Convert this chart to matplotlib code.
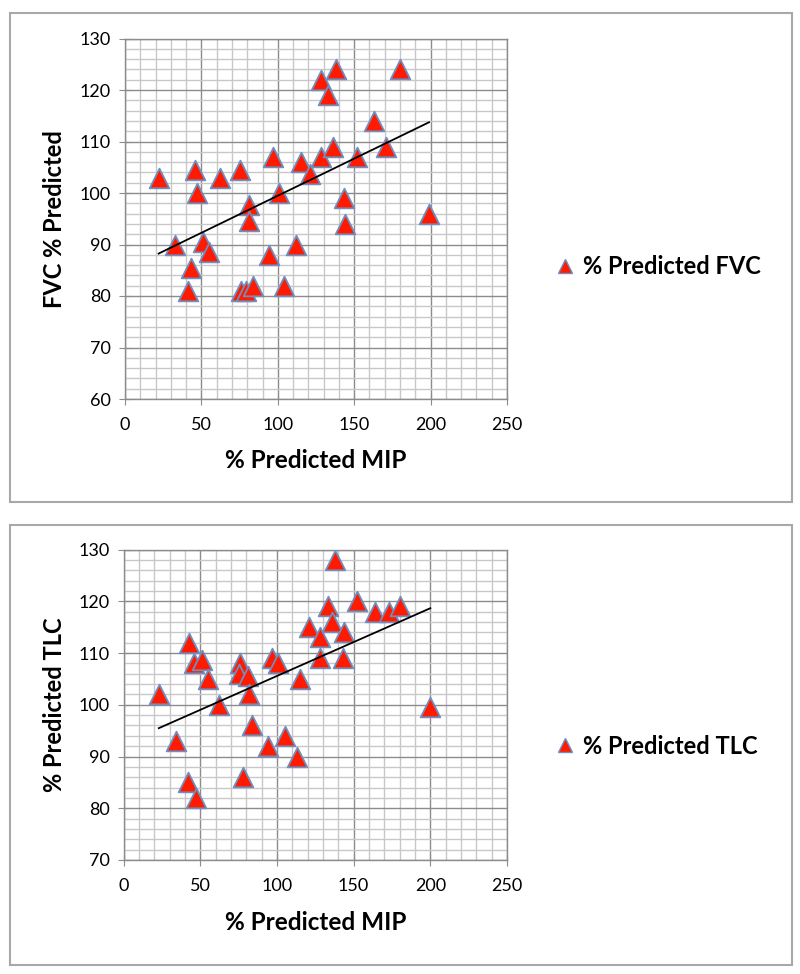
import numpy as np
import matplotlib.pyplot as plt
from matplotlib.patches import Rectangle
from matplotlib.lines import Line2D

plt.rcParams['font.family'] = ['Lato', 'DejaVu Sans']

# --- data ---
fvc_mip = [22, 33, 43, 41, 46, 47, 51, 55, 62, 75, 76, 79, 84, 81, 81, 94, 97,
           101, 104, 112, 115, 121, 128, 128, 133, 136, 138, 143, 144, 152,
           163, 171, 180, 199]
fvc_pred = [103, 90, 85.5, 81, 104.5, 100, 90.5, 88.5, 103, 104.5, 81, 81, 82,
            97.6, 94.5, 88, 107, 100, 82, 90, 106, 103.6, 107, 122, 119, 109,
            124, 99, 94, 107, 114, 109, 124, 96]

tlc_mip = [23, 34, 43, 46, 51, 55, 42, 47, 62, 76, 75, 81, 82, 84, 78, 94, 97,
           101, 105, 113, 115, 121, 128, 128, 133, 136, 138, 144, 143, 152,
           164, 173, 180, 200]
tlc_pred = [102, 93, 112, 108, 108.6, 105, 85, 82, 100, 108, 106, 105.6, 102,
            96, 86, 92, 109, 108, 94, 90, 105, 115, 113, 109, 119, 116, 128,
            114, 109, 120, 118, 118, 119, 99.5]

W, H = 800, 974
fig = plt.figure(figsize=(W / 100, H / 100), dpi=100)


def px_box(left, top, right, bottom):
    return [left / W, 1 - bottom / H, (right - left) / W, (bottom - top) / H]


# panel frames
for (t, b) in [(13, 502), (525, 965)]:
    fig.add_artist(Rectangle((10 / W, 1 - b / H), 782 / W, (b - t) / H,
                             transform=fig.transFigure, fill=False,
                             edgecolor='#a8a8a8', lw=1.5))

panels = [
    dict(box=px_box(125, 38.5, 507, 399), x=fvc_mip, y=fvc_pred, ylim=(60, 130),
         ylabel='FVC % Predicted', leg='% Predicted FVC', leg_y=267,
         ylab_y=219, xlab_y=461),
    dict(box=px_box(123.5, 549.5, 507, 860), x=tlc_mip, y=tlc_pred, ylim=(70, 130),
         ylabel='% Predicted TLC', leg='% Predicted TLC', leg_y=746,
         ylab_y=705, xlab_y=922),
]

for p in panels:
    ax = fig.add_axes(p['box'])
    ax.set_xlim(0, 250)
    ax.set_ylim(*p['ylim'])
    ax.set_xticks(np.arange(0, 251, 50))
    ax.set_xticks(np.arange(0, 251, 10), minor=True)
    ax.set_yticks(np.arange(p['ylim'][0], 131, 10))
    ax.set_yticks(np.arange(p['ylim'][0], 131, 2), minor=True)
    ax.grid(which='minor', color='#c8c8c8', lw=1.0)
    ax.grid(which='major', color='#8c8c8c', lw=1.0)
    ax.set_axisbelow(True)
    for s in ax.spines.values():
        s.set_color('#8c8c8c')
        s.set_linewidth(1.0)
    ax.tick_params(which='major', direction='inout', length=8, color='#8c8c8c',
                   labelsize=13, pad=6)
    ax.tick_params(which='minor', length=0)
    ax.tick_params(axis='x', pad=9)

    ax.scatter(p['x'], p['y'], marker='^', s=200, c='#ff1a00',
               edgecolors='#6f8fc0', linewidths=1.3, zorder=3)

    # linear trendline
    k, b0 = np.polyfit(p['x'], p['y'], 1)
    xs = np.array([min(p['x']), max(p['x'])])
    ax.plot(xs, k * xs + b0, color='black', lw=1.3, zorder=4)

    fig.text(55 / W, 1 - p['ylab_y'] / H, p['ylabel'], rotation=90,
             ha='center', va='center', fontsize=17, fontweight='bold')
    fig.text(316 / W, 1 - p['xlab_y'] / H, '% Predicted MIP',
             ha='center', va='center', fontsize=17.5, fontweight='bold')

    h = Line2D([], [], marker='^', ls='none', markersize=10.5,
               markerfacecolor='#ff1a00', markeredgecolor='#6f8fc0',
               markeredgewidth=1.0)
    fig.legend([h], [p['leg']], loc='center left', frameon=False,
               bbox_to_anchor=(553 / W, 1 - p['leg_y'] / H),
               prop=dict(size=17, weight='bold'), handletextpad=0.25,
               handlelength=1.0, borderpad=0, borderaxespad=0)

fig.savefig('out.png', dpi=100)
